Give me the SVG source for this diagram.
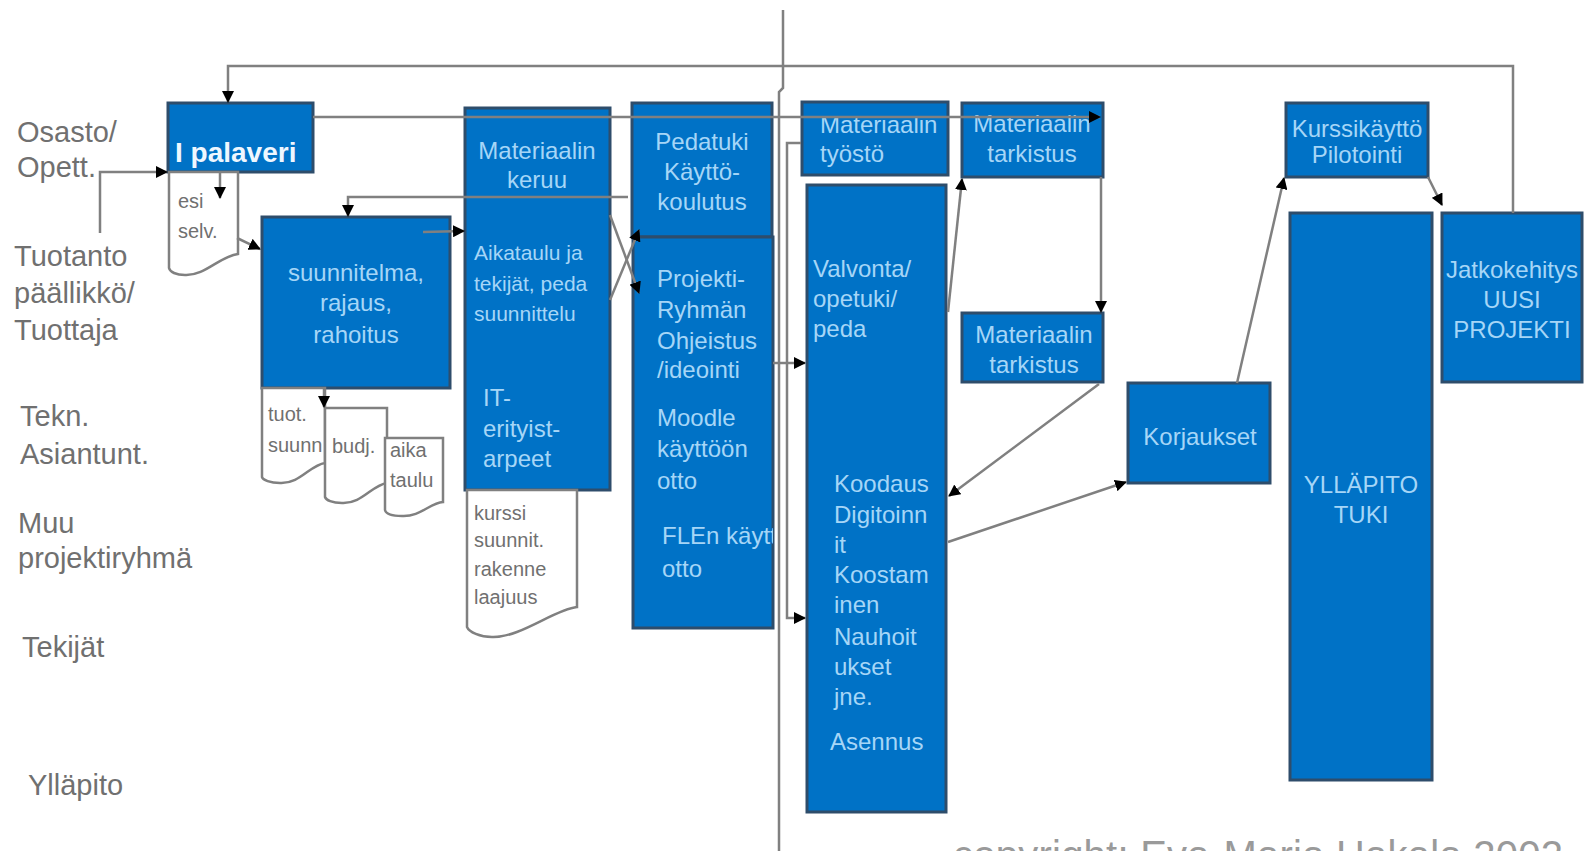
<svg xmlns="http://www.w3.org/2000/svg" width="1585" height="851" viewBox="0 0 1585 851">
<style>
.bg{fill:#ffffff}
.box{fill:#0072c6;stroke:#2e4d6b;stroke-width:3}
.doc{fill:#ffffff;stroke:#808080;stroke-width:2.5}
.lane{font-family:"Liberation Sans",Arial,sans-serif;font-size:29px;fill:#707070}
.bt{font-family:"Liberation Sans",Arial,sans-serif;font-size:24px;fill:#a6d6f7}
.bts{font-family:"Liberation Sans",Arial,sans-serif;font-size:21px;fill:#a6d6f7}
.c{text-anchor:middle}
.dt{font-family:"Liberation Sans",Arial,sans-serif;font-size:20px;fill:#707070}
.con{fill:none;stroke:#808080;stroke-width:2.5}
.arr{marker-end:url(#ah)}
.copy{font-family:"Liberation Sans",Arial,sans-serif;font-size:40px;fill:#9a9a9a}
</style>
<defs>
<marker id="ah" markerUnits="userSpaceOnUse" markerWidth="12" markerHeight="12" refX="11" refY="6" orient="auto">
<path d="M0,0 L12,6 L0,12 z" fill="#000000"/>
</marker>
<clipPath id="clipProj"><rect x="633" y="237" width="140" height="391"/></clipPath>
</defs>
<rect class="bg" x="0" y="0" width="1585" height="851"/>

<g id="lanes">
<text class="lane" x="17" y="142">Osasto/</text>
<text class="lane" x="17" y="177">Opett.</text>
<text class="lane" x="14" y="266">Tuotanto</text>
<text class="lane" x="14" y="303">päällikkö/</text>
<text class="lane" x="14" y="340">Tuottaja</text>
<text class="lane" x="20" y="426">Tekn.</text>
<text class="lane" x="20" y="464">Asiantunt.</text>
<text class="lane" x="18" y="533">Muu</text>
<text class="lane" x="18" y="568">projektiryhmä</text>
<text class="lane" x="22" y="657">Tekijät</text>
<text class="lane" x="28" y="795">Ylläpito</text>
</g>

<g id="divider">
<polyline class="con" points="783,10 783,88 779,92 779,851"/>
</g>

<g id="palaveri">
<rect class="box" x="168" y="103" width="145" height="69"/>
<text x="175" y="162" font-family="'Liberation Sans',Arial,sans-serif" font-size="28" font-weight="bold" fill="#eef7ff">I palaveri</text>
</g>

<g id="esiselv">
<path class="doc" d="M169,172 H238 V254 C220,256 205,276 185,275 C176,275 170,272 169,268 Z"/>
<text class="dt" x="178" y="208">esi</text>
<text class="dt" x="178" y="238">selv.</text>
</g>

<g id="suunnitelma">
<rect class="box" x="262" y="217" width="188" height="171"/>
<text class="bt c" x="356" y="281">suunnitelma,</text>
<text class="bt c" x="356" y="311">rajaus,</text>
<text class="bt c" x="356" y="343">rahoitus</text>
</g>

<g id="tuotsuunn">
<path class="doc" d="M262,388 H325 V463 C310,465 300,484 280,483 C270,483 263,480 262,477 Z"/>
<text class="dt" x="268" y="421">tuot.</text>
<text class="dt" x="268" y="452">suunn</text>
</g>
<g id="budj">
<path class="doc" d="M325,408 H387 V483 C372,485 362,504 342,503 C332,503 326,500 325,497 Z"/>
<text class="dt" x="332" y="453">budj.</text>
</g>
<g id="aikataulu">
<path class="doc" d="M385,438 H443 V502 C430,503 420,517 402,516 C393,516 386,514 385,510 Z"/>
<text class="dt" x="390" y="457">aika</text>
<text class="dt" x="390" y="487">taulu</text>
</g>

<g id="keruu">
<rect class="box" x="465" y="108" width="145" height="382"/>
<text class="bt c" x="537" y="159">Materiaalin</text>
<text class="bt c" x="537" y="188">keruu</text>
<text class="bts" x="474" y="260">Aikataulu ja</text>
<text class="bts" x="474" y="291">tekijät, peda</text>
<text class="bts" x="474" y="321">suunnittelu</text>
<text class="bt" x="483" y="406">IT-</text>
<text class="bt" x="483" y="437">erityist-</text>
<text class="bt" x="483" y="467">arpeet</text>
</g>

<g id="kurssisuunnit">
<path class="doc" d="M467,490 H577 V607 C555,609 520,638 492,637 C480,637 469,632 467,627 Z"/>
<text class="dt" x="474" y="520">kurssi</text>
<text class="dt" x="474" y="547">suunnit.</text>
<text class="dt" x="474" y="576">rakenne</text>
<text class="dt" x="474" y="604">laajuus</text>
</g>

<g id="pedatuki">
<rect class="box" x="632" y="103" width="140" height="134"/>
<text class="bt c" x="702" y="150">Pedatuki</text>
<text class="bt c" x="702" y="180">Käyttö-</text>
<text class="bt c" x="702" y="210">koulutus</text>
</g>

<g id="projekti">
<rect class="box" x="633" y="237" width="140" height="391"/>
<g clip-path="url(#clipProj)">
<text class="bt" x="657" y="287">Projekti-</text>
<text class="bt" x="657" y="318">Ryhmän</text>
<text class="bt" x="657" y="349">Ohjeistus</text>
<text class="bt" x="657" y="378">/ideointi</text>
<text class="bt" x="657" y="426">Moodle</text>
<text class="bt" x="657" y="457">käyttöön</text>
<text class="bt" x="657" y="489">otto</text>
<text class="bt" x="662" y="544">FLEn käyttö</text>
<text class="bt" x="662" y="577">otto</text>
</g>
</g>

<g id="tyosto">
<rect class="box" x="802" y="102" width="146" height="73"/>
<text class="bt" x="820" y="133">Materiaalin</text>
<text class="bt" x="820" y="162">työstö</text>
</g>

<g id="tarkistus1">
<rect class="box" x="962" y="103" width="141" height="74"/>
<text class="bt c" x="1032" y="132">Materiaalin</text>
<text class="bt c" x="1032" y="162">tarkistus</text>
</g>

<g id="valvonta">
<rect class="box" x="807" y="185" width="139" height="627"/>
<text class="bt" x="813" y="277">Valvonta/</text>
<text class="bt" x="813" y="307">opetuki/</text>
<text class="bt" x="813" y="337">peda</text>
<text class="bt" x="834" y="492">Koodaus</text>
<text class="bt" x="834" y="523">Digitoinn</text>
<text class="bt" x="834" y="553">it</text>
<text class="bt" x="834" y="583">Koostam</text>
<text class="bt" x="834" y="613">inen</text>
<text class="bt" x="834" y="645">Nauhoit</text>
<text class="bt" x="834" y="675">ukset</text>
<text class="bt" x="834" y="705">jne.</text>
<text class="bt" x="830" y="750">Asennus</text>
</g>

<g id="tarkistus2">
<rect class="box" x="962" y="313" width="141" height="69"/>
<text class="bt c" x="1034" y="343">Materiaalin</text>
<text class="bt c" x="1034" y="373">tarkistus</text>
</g>

<g id="korjaukset">
<rect class="box" x="1128" y="383" width="142" height="100"/>
<text class="bt c" x="1200" y="445">Korjaukset</text>
</g>

<g id="kurssikaytto">
<rect class="box" x="1286" y="103" width="142" height="74"/>
<text class="bt c" x="1357" y="137">Kurssikäyttö</text>
<text class="bt c" x="1357" y="163">Pilotointi</text>
</g>

<g id="yllapito">
<rect class="box" x="1290" y="213" width="142" height="567"/>
<text class="bt c" x="1361" y="493">YLLÄPITO</text>
<text class="bt c" x="1361" y="523">TUKI</text>
</g>

<g id="jatkokehitys">
<rect class="box" x="1442" y="213" width="140" height="169"/>
<text class="bt c" x="1512" y="278">Jatkokehitys</text>
<text class="bt c" x="1512" y="308">UUSI</text>
<text class="bt c" x="1512" y="338">PROJEKTI</text>
</g>

<g id="connectors">
<polyline class="con arr" points="1513,213 1513,66 228,66 228,102"/>
<polyline class="con arr" points="313,117 1100,117"/>
<polyline class="con arr" points="1101,177 1101,312"/>
<polyline class="con arr" points="100,233 100,172 167,172"/>
<polyline class="con arr" points="220,172 220,198"/>
<polyline class="con arr" points="237,238 260,249"/>
<polyline class="con arr" points="628,197 348,197 348,216"/>
<polyline class="con arr" points="423,232 464,231"/>
<polyline class="con arr" points="324,388 324,407"/>
<polyline class="con arr" points="610,215 639,293"/>
<polyline class="con arr" points="610,300 639,230"/>
<polyline class="con arr" points="773,363 805,363"/>
<polyline class="con arr" points="801,143 787,143 787,618 805,618"/>
<polyline class="con arr" points="948,312 962,179"/>
<polyline class="con arr" points="1099,384 949,496"/>
<polyline class="con arr" points="948,542 1126,482"/>
<polyline class="con arr" points="1237,383 1284,178"/>
<polyline class="con arr" points="1428,177 1442,205"/>
</g>

<text class="copy" x="953" y="869" textLength="610">copyright: Eva-Maria Hakala 2002</text>
</svg>
